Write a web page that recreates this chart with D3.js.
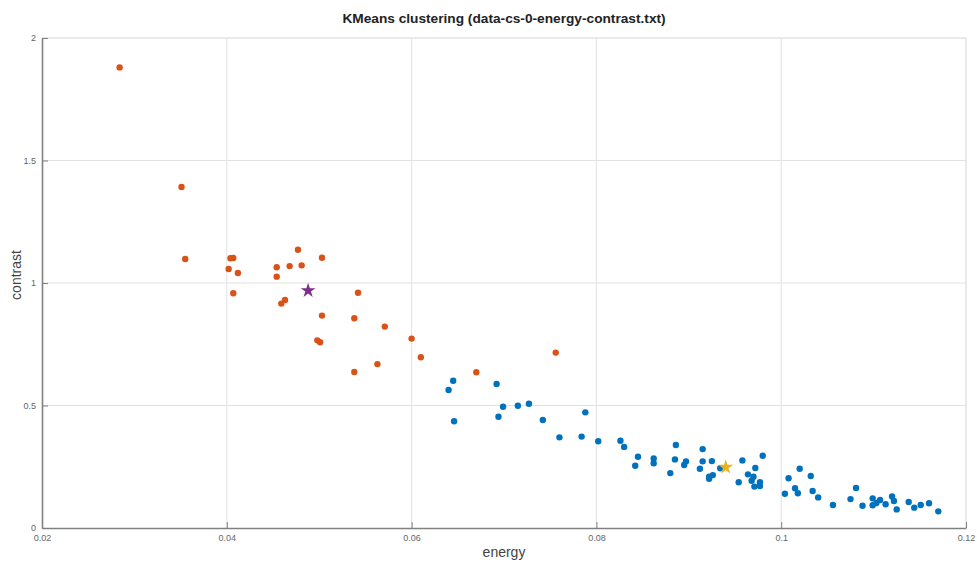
<!DOCTYPE html>
<html>
<head>
<meta charset="utf-8">
<script src="https://cdn.jsdelivr.net/npm/d3@7"></script>
<style>
    body { margin: 0; background: #fff; }
    #chart text { font-family: "Liberation Sans", Arial, sans-serif; }
</style>
</head>
<body>
<div id="chart"></div>
<script>
// Cluster 1 (orange) - energy / contrast pairs
const cluster1Energy = [0.0284, 0.0351, 0.0355, 0.0402, 0.0404, 0.0407, 0.0412, 0.0407, 0.0454, 0.0454,
    0.0468, 0.0477, 0.0481, 0.0503, 0.0459, 0.0463, 0.0542, 0.0503, 0.0538, 0.0571,
    0.0498, 0.0501, 0.0600, 0.0610, 0.0563, 0.0538, 0.0670, 0.0756];
const cluster1Contrast = [1.880, 1.392, 1.098, 1.057, 1.101, 1.102, 1.041, 0.958, 1.064, 1.026,
    1.069, 1.136, 1.072, 1.103, 0.916, 0.931, 0.960, 0.867, 0.856, 0.822,
    0.766, 0.758, 0.773, 0.697, 0.669, 0.637, 0.636, 0.716];

// Cluster 2 (blue)
const cluster2Energy = [0.0645, 0.0640, 0.0692, 0.0646, 0.0699, 0.0694, 0.0715, 0.0727, 0.0742, 0.0760,
    0.0784, 0.0788, 0.0802, 0.0826, 0.0830, 0.0845, 0.0842, 0.0862, 0.0862, 0.0886,
    0.0885, 0.0880, 0.0897, 0.0895, 0.0915, 0.0915, 0.0925, 0.0912, 0.0922, 0.0926,
    0.0922, 0.0934, 0.0958, 0.0980, 0.0954, 0.0964, 0.0972, 0.0970, 0.0968, 0.0977,
    0.0977, 0.0971, 0.1004, 0.1008, 0.1020, 0.1015, 0.1018, 0.1032, 0.1034, 0.1040,
    0.1056, 0.1075, 0.1081, 0.1088, 0.1099, 0.1099, 0.1103, 0.1107, 0.1113, 0.1120,
    0.1122, 0.1125, 0.1138, 0.1144, 0.1151, 0.1160, 0.1170];
const cluster2Contrast = [0.601, 0.563, 0.588, 0.436, 0.495, 0.454, 0.499, 0.507, 0.441, 0.370,
    0.373, 0.472, 0.354, 0.356, 0.331, 0.291, 0.254, 0.284, 0.264, 0.339,
    0.280, 0.224, 0.272, 0.257, 0.322, 0.272, 0.273, 0.242, 0.209, 0.216,
    0.201, 0.244, 0.276, 0.295, 0.187, 0.219, 0.245, 0.209, 0.193, 0.187,
    0.171, 0.169, 0.140, 0.203, 0.242, 0.162, 0.142, 0.212, 0.151, 0.125,
    0.094, 0.118, 0.163, 0.091, 0.121, 0.093, 0.102, 0.114, 0.097, 0.129,
    0.110, 0.076, 0.106, 0.083, 0.094, 0.101, 0.068];

// Cluster centroids (stars)
const centroidEnergy = [0.0488, 0.0940];
const centroidContrast = [0.969, 0.248];

// Axis ticks
const xTicks = [0.02, 0.04, 0.06, 0.08, 0.1, 0.12];
const yTicks = [0, 0.5, 1, 1.5, 2];

const pointColors = ['#D95319', '#0072BD'];
const starColors = ['#7E2F8E', '#EDB120'];

function drawChart() {
    const margin = { top: 38, right: 11, bottom: 36, left: 42 };
    const totalW = 977, totalH = 564;
    const width = totalW - margin.left - margin.right;
    const height = totalH - margin.top - margin.bottom;

    const svg = d3.select('#chart').append('svg')
        .attr('width', totalW)
        .attr('height', totalH);

    const g = svg.append('g')
        .attr('transform', `translate(${margin.left},${margin.top})`);

    const xScale = d3.scaleLinear().domain([0.02, 0.12]).range([0, width]);
    const yScale = d3.scaleLinear().domain([0, 2]).range([height, 0]);

    // Grid lines
    g.append('g').selectAll('line')
        .data(xTicks.slice(1, -1))
        .enter().append('line')
        .attr('x1', d => xScale(d)).attr('x2', d => xScale(d))
        .attr('y1', 0).attr('y2', height)
        .attr('stroke', '#e2e2e2');

    g.append('g').selectAll('line')
        .data(yTicks.slice(1, -1))
        .enter().append('line')
        .attr('x1', 0).attr('x2', width)
        .attr('y1', d => yScale(d)).attr('y2', d => yScale(d))
        .attr('stroke', '#e2e2e2');

    // Box (top/right light)
    g.append('path')
        .attr('d', `M0,0H${width}V${height}`)
        .attr('fill', 'none')
        .attr('stroke', '#e3e3e3')
        .attr('stroke-width', 1.5);

    // Axes
    const xAxis = d3.axisBottom(xScale)
        .tickValues(xTicks)
        .tickSizeInner(-6).tickSizeOuter(0)
        .tickPadding(7)
        .tickFormat(d3.format('~g'));

    const yAxis = d3.axisLeft(yScale)
        .tickValues(yTicks)
        .tickSizeInner(-6).tickSizeOuter(0)
        .tickPadding(6)
        .tickFormat(d3.format('~g'));

    const gx = g.append('g')
        .attr('transform', `translate(0,${height})`)
        .call(xAxis);
    const gy = g.append('g').call(yAxis);

    [gx, gy].forEach(ax => {
        ax.select('.domain').attr('stroke', '#808080').attr('stroke-width', 1.6);
        ax.selectAll('.tick line').attr('stroke', '#808080');
        ax.selectAll('.tick text')
            .attr('fill', '#666')
            .attr('font-size', '9px');
    });

    // Axis labels
    g.append('text')
        .attr('x', width / 2)
        .attr('y', height + 29)
        .attr('text-anchor', 'middle')
        .attr('fill', '#444')
        .attr('font-size', '14px')
        .text('energy');

    g.append('text')
        .attr('transform', 'rotate(-90)')
        .attr('x', -height / 2 + 8)
        .attr('y', -21)
        .attr('text-anchor', 'middle')
        .attr('fill', '#444')
        .attr('font-size', '14px')
        .text('contrast');

    // Title
    svg.append('text')
        .attr('x', margin.left + width / 2)
        .attr('y', 23)
        .attr('text-anchor', 'middle')
        .attr('font-size', '13.7px')
        .attr('font-weight', 'bold')
        .attr('fill', '#222')
        .text('KMeans clustering (data-cs-0-energy-contrast.txt)');

    // Points
    const clusters = [
        cluster1Energy.map((e, i) => ({ x: e, y: cluster1Contrast[i], c: 0 })),
        cluster2Energy.map((e, i) => ({ x: e, y: cluster2Contrast[i], c: 1 }))
    ];

    clusters.forEach(pts => {
        g.append('g').selectAll('circle')
            .data(pts)
            .enter().append('circle')
            .attr('cx', d => xScale(d.x))
            .attr('cy', d => yScale(d.y))
            .attr('r', 3.2)
            .attr('fill', d => pointColors[d.c]);
    });

    // Centroids
    const star = d3.symbol().type(d3.symbolStar).size(68);
    g.append('g').selectAll('path')
        .data(centroidEnergy.map((e, i) => ({ x: e, y: centroidContrast[i], c: i })))
        .enter().append('path')
        .attr('d', star)
        .attr('transform', d => `translate(${xScale(d.x)},${yScale(d.y)})`)
        .attr('fill', d => starColors[d.c]);
}

drawChart();
</script>
</body>
</html>
